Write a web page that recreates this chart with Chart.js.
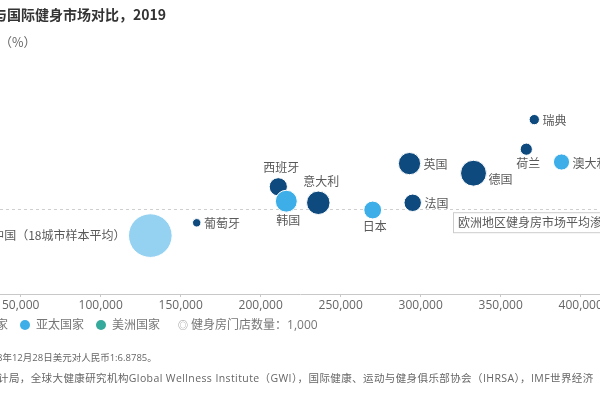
<!DOCTYPE html>
<html>
<head>
<meta charset="utf-8">
<script src="https://cdn.jsdelivr.net/npm/chart.js@4.4.1/dist/chart.umd.min.js"></script>
<style>
html, body { margin: 0; padding: 0; background: #fff; }
#wrap { position: relative; width: 600px; height: 400px; overflow: hidden; font-family: "Open Sans", "Noto Sans CJK SC", sans-serif; }
#chart { position: absolute; left: 0; top: 0; }
.t { position: absolute; white-space: nowrap; line-height: 1; }
#title { top: 7px; left: -7px; font-size: 14px; font-weight: bold; color: #333; font-family: "Noto Sans CJK SC", sans-serif; }
#unit { top: 36px; left: -13px; font-size: 12.5px; color: #666; font-family: "Noto Sans CJK SC", sans-serif; }
#legend { top: 319px; left: -56px; display: flex; align-items: center; font-size: 12px; color: #777; }
#legend .item { display: flex; align-items: center; margin-right: 12px; }
#legend .dot { width: 10px; height: 10px; border-radius: 50%; margin-right: 6px; }
#legend .size { margin-left: 6px; display: flex; align-items: center; }
#legend .ring { font-size: 10px; color: #999; margin-right: 3px; }
.note { font-size: 9.5px; color: #666; }
</style>
</head>
<body>
<div id="wrap">
  <canvas id="chart" width="600" height="400"></canvas>
  <div class="t" id="title">与国际健身市场对比，2019</div>
  <div class="t" id="unit">率（%）</div>
  <div class="t" id="legend"></div>
  <div class="t note" style="top:353px;left:-3px;">8年12月28日美元对人民币1:6.8785。</div>
  <div class="t note" style="top:373px;left:-2px;font-size:10.5px;letter-spacing:0.4px;">计局，全球大健康研究机构Global Wellness Institute（GWI），国际健康、运动与健身俱乐部协会（IHRSA），IMF世界经济</div>
  <div class="t note" style="top:392px;left:-6px;">。</div>
</div>
<script>
// data
var countries = ["中国（18城市样本平均）", "葡萄牙", "西班牙", "韩国", "意大利", "日本", "英国", "法国", "德国", "荷兰", "瑞典", "澳大利亚"];
var region = ["中国", "欧洲国家", "欧洲国家", "亚太国家", "欧洲国家", "亚太国家", "欧洲国家", "欧洲国家", "欧洲国家", "欧洲国家", "欧洲国家", "亚太国家"];
var gdp = [131000, 160000, 211000, 216000, 236000, 270000, 293000, 295000, 333000, 366000, 371000, 388000];
var rate = [7.3, 8.9, 13.4, 11.6, 11.4, 10.5, 16.3, 11.4, 15.1, 18.1, 21.8, 16.5];
var stores = [27000, 1000, 4700, 6800, 7800, 4500, 7000, 4300, 9500, 2100, 1500, 3700];
var europeAvg = 10.6;
var avgLabel = "欧洲地区健身房市场平均渗透率";
var xTicks = [50000, 100000, 150000, 200000, 250000, 300000, 350000, 400000];

var legendGroups = ["欧洲国家", "亚太国家", "美洲国家"];
var legendSize = "健身房门店数量：1,000";

var colors = { "中国": "#95d2f2", "亚太国家": "#3eaee8", "欧洲国家": "#0e4a7e", "美洲国家": "#35a99b" };
// drawing order: first dataset ends up on top
var groupOrder = ["中国", "亚太国家", "欧洲国家", "美洲国家"];
var labelPlace = ["left", "right", "top", "bottom", "top", "bottom", "right", "right", "rightlow", "bottom", "right", "right"];

function radius(n) { return 4.2 * Math.sqrt(n / 1000); }

var datasets = groupOrder.map(function (g) {
  var pts = [];
  for (var i = 0; i < countries.length; i++) {
    if (region[i] === g) pts.push({ x: gdp[i], y: rate[i], r: radius(stores[i]), i: i });
  }
  return { label: g, data: pts, backgroundColor: colors[g], borderColor: "#fff", borderWidth: 1, hoverRadius: 0 };
});

// legend
var lg = document.getElementById("legend");
legendGroups.forEach(function (g) {
  var it = document.createElement("span");
  it.className = "item";
  it.innerHTML = '<span class="dot" style="background:' + colors[g] + '"></span>' + g;
  lg.appendChild(it);
});
var sz = document.createElement("span");
sz.className = "size";
sz.innerHTML = '<span class="ring">◎</span>' + legendSize;
lg.appendChild(sz);

var labelFont = '12px "Noto Sans CJK SC", sans-serif';

var avgLine = {
  id: "avgLine",
  beforeDatasetsDraw: function (chart) {
    var ctx = chart.ctx, a = chart.chartArea;
    var y = Math.round(chart.scales.y.getPixelForValue(europeAvg)) + 0.5;
    ctx.save();
    ctx.strokeStyle = "#cfcfcf";
    ctx.lineWidth = 1;
    ctx.setLineDash([3, 3]);
    ctx.beginPath();
    ctx.moveTo(a.left, y);
    ctx.lineTo(a.right, y);
    ctx.stroke();
    ctx.restore();
  },
  afterDatasetsDraw: function (chart) {
    var ctx = chart.ctx;
    ctx.save();
    ctx.font = labelFont;
    ctx.fillStyle = "#595959";
    chart.data.datasets.forEach(function (ds, d) {
      var meta = chart.getDatasetMeta(d);
      ds.data.forEach(function (p, j) {
        var el = meta.data[j];
        var r = p.r, name = countries[p.i];
        var pl = labelPlace[p.i];
        if (pl === "left") {
          ctx.textAlign = "right"; ctx.textBaseline = "middle";
          ctx.fillText(name, el.x - r - 3, el.y);
        } else if (pl === "right") {
          ctx.textAlign = "left"; ctx.textBaseline = "middle";
          ctx.fillText(name, el.x + r + 3, el.y + 1);
        } else if (pl === "rightlow") {
          ctx.textAlign = "left"; ctx.textBaseline = "middle";
          ctx.fillText(name, el.x + r + 2, el.y + 6);
        } else if (pl === "top") {
          ctx.textAlign = "center"; ctx.textBaseline = "middle";
          ctx.fillText(name, el.x + 3, el.y - r - 10);
        } else {
          ctx.textAlign = "center"; ctx.textBaseline = "middle";
          ctx.fillText(name, el.x + 2, el.y + r + 8);
        }
      });
    });
    // average label box
    var y = chart.scales.y.getPixelForValue(europeAvg);
    ctx.fillStyle = "#fff";
    ctx.strokeStyle = "#cccccc";
    ctx.lineWidth = 1;
    ctx.fillRect(453.5, y + 3.5, 200, 20);
    ctx.strokeRect(453.5, y + 3.5, 200, 20);
    ctx.fillStyle = "#595959";
    ctx.textAlign = "left"; ctx.textBaseline = "middle";
    ctx.fillText(avgLabel, 458, y + 13.5);
    ctx.restore();
  }
};

new Chart(document.getElementById("chart"), {
  type: "bubble",
  data: { datasets: datasets },
  options: {
    responsive: false,
    animation: false,
    events: [],
    layout: { autoPadding: false, padding: { left: 0, right: 0, top: 54, bottom: 76 } },
    plugins: { legend: { display: false }, tooltip: { enabled: false } },
    scales: {
      x: {
        type: "linear",
        min: 37060,
        max: 412060,
        afterBuildTicks: function (s) { s.ticks = xTicks.map(function (v) { return { value: v }; }); },
        afterFit: function (s) { s.paddingLeft = 0; s.paddingRight = 0; s.height = 30; },
        grid: { drawOnChartArea: false, drawTicks: true, tickLength: 3, color: "#c8c8c8" },
        border: { color: "#c8c8c8" },
        ticks: {
          autoSkip: false, maxRotation: 0, padding: 1, color: "#666",
          font: { family: "Open Sans", size: 12 },
          callback: function (v) { return v.toLocaleString("en-US"); }
        }
      },
      y: { display: false, min: 0, max: 30 }
    }
  },
  plugins: [avgLine]
});
</script>
</body>
</html>
